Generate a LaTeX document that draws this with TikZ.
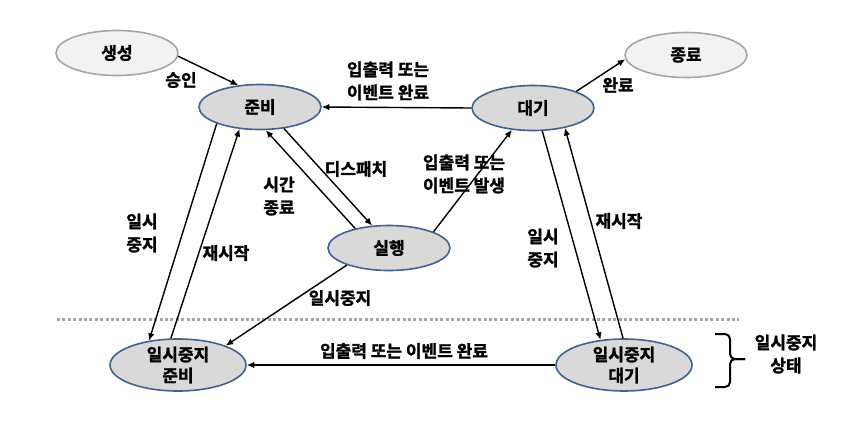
\documentclass[tikz,border=0pt]{standalone}
\usepackage{fontspec}
\setmainfont{Noto Sans CJK KR}[BoldFont={Noto Sans CJK KR Bold}, BoldFeatures={FakeBold=1.6}]
\usetikzlibrary{shapes.geometric,arrows.meta}
\definecolor{bordblue}{HTML}{41628D}
\definecolor{fillmain}{HTML}{D9D9D9}
\definecolor{bordgray}{HTML}{A6A6A6}
\definecolor{fillout}{HTML}{F2F2F2}
\definecolor{dotgray}{HTML}{A6A6A6}
\begin{document}
\begin{tikzpicture}[x=1pt,y=-1pt,
  font=\bfseries\fontsize{17}{23}\selectfont,
  st/.style={ellipse, draw=bordblue, fill=fillmain, line width=1.6pt,
    minimum width=122pt, minimum height=45pt, inner sep=0pt, align=center},
  stout/.style={st, draw=bordgray, fill=fillout},
  stp/.style={st, minimum width=136pt, minimum height=44pt},
  arr/.style={-{Latex[length=7.5pt,width=6.5pt]}, line width=1.4pt},
  lbl/.style={align=center, inner sep=0pt}]
\useasboundingbox (0,0) rectangle (853,426);

% separator
\draw[dotgray, line width=3pt, dash pattern=on 3pt off 2.4pt] (57,319) -- (739,319);

% states
\node[stout] (sc) at (117,53) {생성};
\node[st] (jb) at (260,107) {준비};
\node[st] (dg) at (533,108) {대기};
\node[stout] (jr) at (686,55) {종료};
\node[st] (sh) at (389,248) {실행};
\node[stp] (pr) at (178,365) {일시중지\\[-2pt]준비};
\node[stp] (pw) at (624,365) {일시중지\\[-2pt]대기};

% transitions
\draw[arr] (sc.-3) -- (jb.135);
\draw[arr] (dg.west) -- (jb.east);
\draw[arr] (dg.21) -- (jr.184);
\draw[arr] (jb.-42) -- (sh.127);
\draw[arr] (sh.150) -- (jb.-76);
\draw[arr] (sh.20) -- (dg.-134);
\draw[arr] (sh.202) -- (pr.22);
\draw[arr] (jb.-159) -- (pr.140);
\draw[arr] (pr.105) -- (jb.-133);
\draw[arr] (dg.-68) -- (pw.133);
\draw[arr] (pw.92) -- (dg.-32);
\draw[arr] (pw.west) -- (pr.east);

% labels
\node[lbl] (l1) at (181,80) {승인};
\node[lbl] (l2) at (388,81) {입출력 또는\\이벤트 완료};
\node[lbl] (l3) at (618,85) {완료};
\node[lbl] (l4) at (356,169) {디스패치};
\node[lbl] (l5) at (279,196) {시간\\종료};
\node[lbl] (l6) at (464,174) {입출력 또는\\이벤트 발생};
\node[lbl] (l7) at (340,298) {일시중지};
\node[lbl] (l8) at (142,233) {일시\\중지};
\node[lbl] (l9) at (226,253) {재시작};
\node[lbl] (l10) at (543,248) {일시\\중지};
\node[lbl] (l11) at (619,221) {재시작};
\node[lbl] (l12) at (404,351) {입출력 또는 이벤트 완료};
\node[lbl] (l13) at (786,354) {일시중지\\상태};

% brace
\draw[line width=2pt, rounded corners=5pt] (715,334) -- (730,334) -- (730,359) -- (745,359);
\draw[line width=2pt, rounded corners=5pt] (715,387) -- (730,387) -- (730,359) -- (745,359);
\end{tikzpicture}
\end{document}
